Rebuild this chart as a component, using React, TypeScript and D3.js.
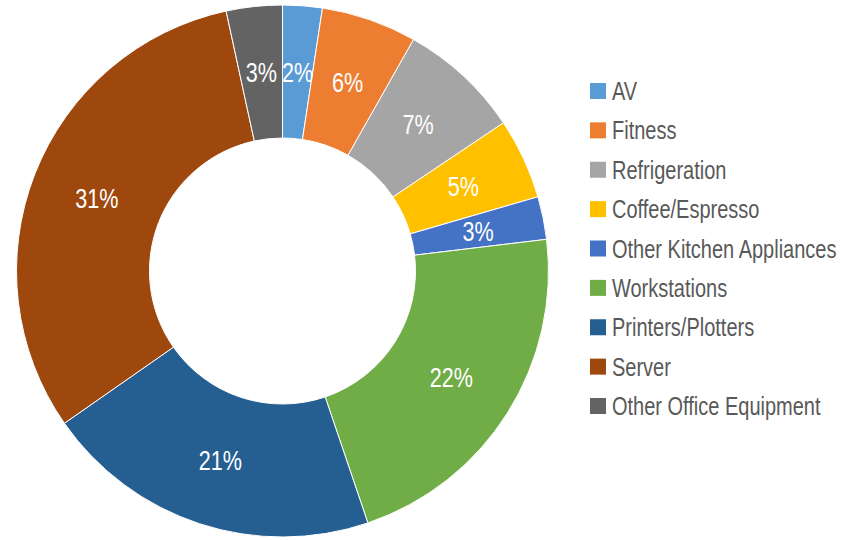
import * as d3 from "d3";
import { useEffect, useRef } from "react";

const categories = [
  "AV",
  "Fitness",
  "Refrigeration",
  "Coffee/Espresso",
  "Other Kitchen Appliances",
  "Workstations",
  "Printers/Plotters",
  "Server",
  "Other Office Equipment",
];
const shares = [2.4, 5.8, 7.4, 4.9, 2.6, 21.7, 20.5, 31.3, 3.4];
const colors = [
  "#5B9BD5",
  "#ED7D31",
  "#A5A5A5",
  "#FFC000",
  "#4472C4",
  "#70AD47",
  "#255E91",
  "#9E480E",
  "#636363",
];

const W = 846;
const H = 540;
// no condensed font installed, so Liberation Sans squeezed horizontally
const FONT = "'Liberation Sans', Arial, sans-serif";
const SQUEEZE = 0.8;

const App = () => {
  const ref = useRef<SVGSVGElement>(null);

  useEffect(() => {
    const svg = d3.select(ref.current);
    svg.selectAll("*").remove();

    const cx = 282.5, cy = 271, outer = 266, inner = 133;
    const total = d3.sum(shares);

    const pie = d3.pie<number>().sort(null).value((d) => d);
    const arc = d3.arc<d3.PieArcDatum<number>>().innerRadius(inner).outerRadius(outer);
    const labelArc = d3.arc<d3.PieArcDatum<number>>()
      .innerRadius((inner + outer) / 2)
      .outerRadius((inner + outer) / 2);

    const g = svg.append("g").attr("transform", `translate(${cx},${cy})`);
    const arcs = pie(shares);

    g.selectAll("path")
      .data(arcs)
      .enter()
      .append("path")
      .attr("d", arc)
      .attr("fill", (d, i) => colors[i])
      .attr("stroke", "#fff")
      .attr("stroke-width", 1);

    g.selectAll("text")
      .data(arcs)
      .enter()
      .append("text")
      .attr("transform", (d) => `translate(${labelArc.centroid(d)}) scale(${SQUEEZE},1)`)
      .attr("text-anchor", "middle")
      .attr("dy", "0.36em")
      .style("font-family", FONT)
      .style("font-size", "27px")
      .attr("fill", "#fff")
      .text((d) => Math.round((d.data / total) * 100) + "%");

    // legend
    const legend = svg.append("g").attr("transform", "translate(590,91)");
    const y = d3.scalePoint<string>().domain(categories).range([0, 315]);
    const rows = legend.selectAll("g")
      .data(categories)
      .enter()
      .append("g")
      .attr("transform", (d) => `translate(0,${y(d)})`);
    rows.append("rect")
      .attr("x", 0)
      .attr("y", -8)
      .attr("width", 16)
      .attr("height", 16)
      .attr("fill", (d, i) => colors[i]);
    rows.append("text")
      .attr("transform", `translate(22,0) scale(${SQUEEZE},1)`)
      .attr("dy", "0.36em")
      .style("font-family", FONT)
      .style("font-size", "25px")
      .attr("fill", "#595959")
      .text((d) => d);
  }, []);

  return (
    <svg
      ref={ref}
      width={W}
      height={H}
      style={{ position: "absolute", left: 0, top: 0, background: "#fff" }}
    />
  );
};

export default App;
